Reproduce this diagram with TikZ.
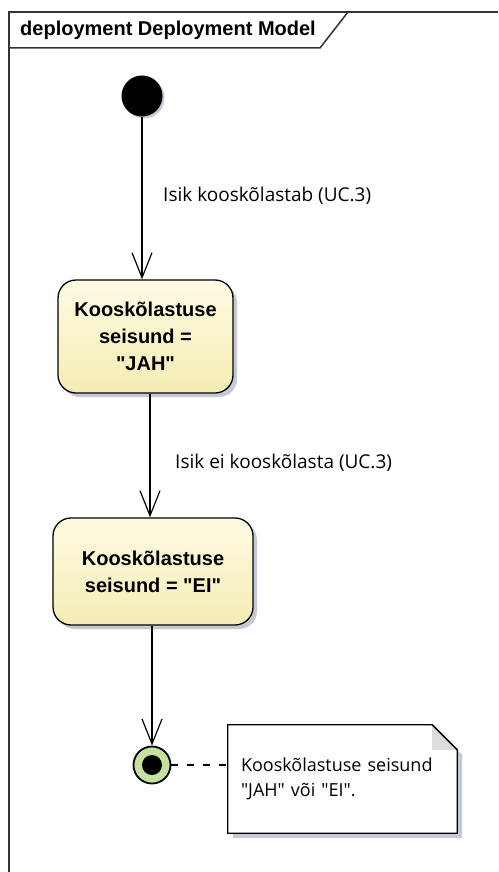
\documentclass[tikz,border=0pt]{standalone}
\usepackage{fontspec}
\setmainfont{Open Sans}[Ligatures=TeXOff]
\newfontfamily\boldsans{Liberation Sans}[Ligatures=TeXOff]
\usetikzlibrary{arrows.meta,shadows,backgrounds}
\definecolor{framecol}{HTML}{333333}
\definecolor{shadowcol}{HTML}{C5C9D5}
\definecolor{statetop}{HTML}{FEFBE3}
\definecolor{statebot}{HTML}{F4ECB4}
\definecolor{finalfill}{HTML}{C6E0A0}
\definecolor{foldfill}{HTML}{DCDCDC}
\begin{document}
\begin{tikzpicture}[x=1pt,y=-1pt,
  state/.style={rectangle, rounded corners=18pt, draw=black, line width=1.3pt,
    top color=statetop, bottom color=statebot,
    drop shadow={shadow xshift=4pt, shadow yshift=-4pt, fill=shadowcol, opacity=1},
    align=center, font=\boldsans\bfseries\fontsize{20}{27}\selectfont},
  flow/.style={draw=black, line width=1.2pt,
    -{Straight Barb[length=25pt,width=20pt,line width=1.2pt]}},
  guard/.style={font=\fontsize{19}{24}\selectfont, anchor=west, inner sep=0pt},
]
\useasboundingbox (0,0) rectangle (498,872);

% diagram frame and its name tab
\draw[framecol, line width=1.5pt] (9,872) -- (9,12) -- (498,12);
\draw[framecol, line width=1.5pt] (9,48) -- (320,48) -- (348,12);
\node[anchor=west, inner sep=0pt, font=\boldsans\bfseries\fontsize{20}{24}\selectfont]
  (title) at (20,30) {deployment Deployment Model};

% initial pseudo-state
\node[circle, fill=black, minimum size=41pt, inner sep=0pt,
  drop shadow={shadow xshift=2pt, shadow yshift=-2pt, fill=shadowcol, opacity=1}]
  (init) at (142,96) {};

% states
\node[state, minimum width=175pt, minimum height=113pt] (jah) at (145.5,336.5)
  {Kooskõlastuse\\seisund =\\"JAH"};
\node[state, minimum width=200pt, minimum height=107pt] (ei) at (153,571.5)
  {Kooskõlastuse\\seisund = "EI"};

% final state
\node[circle, draw=black, line width=1.8pt, fill=finalfill, minimum size=37pt,
  inner sep=0pt] (fin) at (152,765) {};
\fill[black] (fin.center) circle (10pt);

% transitions
\coordinate (mid) at (150,0);
\draw[flow] (init.south) -- (init.south |- jah.north);
\draw[flow] (jah.south -| mid) -- (ei.north -| mid);
\draw[flow] (ei.south -| fin.north) -- (fin.north);
\node[guard] (g1) at (163,196) {Isik kooskõlastab (UC.3)};
\node[guard] (g2) at (175,463) {Isik ei kooskõlasta (UC.3)};

% note with folded corner
\node[minimum width=229pt, minimum height=108pt, inner xsep=13pt, inner ysep=0pt,
  text width=203pt, align=left, font=\fontsize{18}{25}\selectfont]
  (note) at (342.5,779) {Kooskõlastuse seisund\\"JAH" või "EI".};
\begin{scope}[on background layer]
  \fill[shadowcol] ([shift={(5,5)}]note.north west) -- ([shift={(-20,5)}]note.north east)
    -- ([shift={(5,30)}]note.north east) -- ([shift={(5,5)}]note.south east)
    -- ([shift={(5,5)}]note.south west) -- cycle;
  \draw[black, line width=1.3pt, fill=white] (note.north west)
    -- ([shift={(-25,0)}]note.north east) -- ([shift={(0,25)}]note.north east)
    -- (note.south east) -- (note.south west) -- cycle;
  \fill[foldfill] ([shift={(-25,0)}]note.north east) -- ([shift={(-25,25)}]note.north east)
    -- ([shift={(0,25)}]note.north east) -- cycle;
  \draw[black, line width=1.3pt] ([shift={(-25,0)}]note.north east) -- ([shift={(0,25)}]note.north east);
\end{scope}
\draw[black, line width=1.2pt, dash pattern=on 7pt off 9pt] (fin.east) -- (fin.east -| note.west);
\end{tikzpicture}
\end{document}
